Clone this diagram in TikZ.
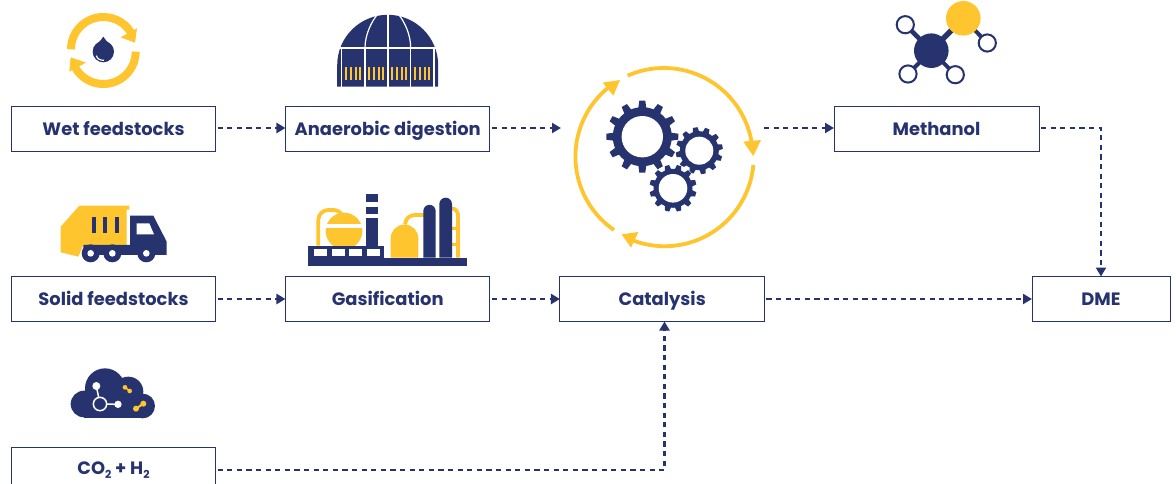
\documentclass[tikz,border=0pt]{standalone}
\usepackage{fontspec}
\setmainfont{Poppins}
\usetikzlibrary{arrows.meta}
\definecolor{navy}{HTML}{27336F}
\definecolor{sun}{HTML}{FFC52E}
\tikzset{
  box/.style={draw=navy,line width=1pt,fill=white,minimum height=45pt,inner sep=0pt,outer sep=0pt,text=navy,text height=13.5pt,text depth=0.5pt,font=\fontsize{17.9}{20}\selectfont\bfseries},
  flow/.style={draw=navy,line width=2.4pt,dash pattern=on 5.2pt off 4.4pt,-{Triangle[length=9pt,width=10pt,fill=navy]},shorten <=2pt},
  ring/.style={draw=sun,line width=3.8pt},
  thickring/.style={draw=sun,line width=8pt},
  tiny/.style={draw=navy,line width=2pt,fill=white}
}
% centre x, centre y, tooth radius, body radius, hole radius, tooth width, offset
\newcommand{\gearicon}[7]{%
  \foreach \ang in {0,30,...,330}{%
    \fill[navy,rotate around={\ang+#7:(#1,#2)}] ({#1-#6/2},{#2-#3}) -- ({#1+#6/2},{#2-#3}) -- ({#1+#6/2+1},{#2-#4+1}) -- ({#1-#6/2-1},{#2-#4+1}) -- cycle;}
  \fill[navy] (#1,#2) circle (#4);
  \fill[white] (#1,#2) circle (#5);
}
\begin{document}
\begin{tikzpicture}[x=1pt,y=-1pt]
\useasboundingbox (0,0) rectangle (1176,484);

% boxes
\node[box,minimum width=204pt] (wet) at (113.5,129) {Wet feedstocks};
\node[box,minimum width=204.5pt] (ana) at (387.7,129) {Anaerobic digestion};
\node[box,minimum width=205pt] (met) at (936.5,129) {Methanol};
\node[box,minimum width=204pt] (sol) at (113.5,299) {Solid feedstocks};
\node[box,minimum width=204.5pt] (gas) at (387.7,299) {Gasification};
\node[box,minimum width=204.5pt] (cat) at (662.2,299) {Catalysis};
\node[box,minimum width=138pt] (dme) at (1101,299) {DME};
\node[box,minimum width=204pt,text height=10pt] (co) at (113.5,470) {CO\raisebox{-3.5pt}{\fontsize{11}{11}\selectfont 2} + H\raisebox{-3.5pt}{\fontsize{11}{11}\selectfont 2}};

% connectors
\coordinate (gearin) at (561,128);
\coordinate (gearout) at (762,128);
\coordinate (bendm) at (1101,128);
\coordinate (bendc) at (664.5,470);
\draw[flow] (wet.east |- gearin) -- (ana.west |- gearin);
\draw[flow] (ana.east |- gearin) -- (gearin);
\draw[flow] (gearout) -- (gearout -| met.west);
\draw[flow] (met.east |- bendm) -- (bendm) -- (dme.north);
\draw[flow] (sol.east) -- (gas.west);
\draw[flow] (gas.east) -- (cat.west);
\draw[flow] (cat.east) -- (dme.west);
\draw[flow] (co.east) -- (bendc) -- (cat.south -| bendc);

% recycle icon
\begin{scope}[shift={(40,0)},scale=1/3]
  \draw[thickring] (93,148) arc[start angle=180,end angle=335,radius=97];
  \fill[sun] (291,85) -- (285,128) -- (242,112) -- cycle;
  \draw[thickring] (287,155) arc[start angle=0,end angle=150,radius=97];
  \fill[sun] (88,215) -- (92,172) -- (138,188) -- cycle;
  \fill[navy] (190,155) circle (32);
  \fill[navy] (190,110) .. controls (182,124) and (165,136) .. (160,145) -- (220,145) .. controls (215,136) and (198,124) .. (190,110) -- cycle;
  \draw[white,line width=1.2pt] (169,167) .. controls (172,177) and (180,181) .. (192,181);
\end{scope}

% dome icon
\begin{scope}
  \fill[navy] (337.2,86.7) -- (337.2,65.3) arc[start angle=180,end angle=360,radius=50.5] -- (438.2,86.7) -- cycle;
  \foreach \vx in {341.7,365,388,410.7,434}{\draw[white,line width=1.2pt] (\vx,48) -- (\vx,87);}
  \draw[white,line width=1.2pt] (339,48) -- (436,48);
  \draw[white,line width=1.2pt] (388,10) -- (388,48);
  \draw[white,line width=1.2pt] (365,48) .. controls (365,35) and (371,22) .. (378.5,13);
  \draw[white,line width=1.2pt] (410.7,48) .. controls (410.7,35) and (405,22) .. (397.5,13);
  \foreach \gx in {0,23,46,69}{\foreach \bx in {346,350.7,355.7,360}{\fill[sun] ({\bx+\gx-1.2},66.7) rectangle ({\bx+\gx+1.2},80);}}
\end{scope}

% molecule icon
\coordinate (mc) at (931.3,50.7);
\coordinate (my) at (963.3,18.3);
\coordinate (m1) at (905.3,24.7);
\coordinate (m2) at (987.3,43);
\coordinate (m3) at (908,74);
\coordinate (m4) at (955.3,74.7);
\draw[navy,line width=5.5pt] (mc) -- (my);
\draw[navy,line width=4.5pt] (mc) -- (m1);
\draw[navy,line width=4pt] (mc) -- (m3);
\draw[navy,line width=4pt] (mc) -- (m4);
\draw[navy,line width=4pt] (my) -- (m2);
\fill[navy] (mc) circle (17.3);
\fill[sun] (my) circle (17.3);
\foreach \mm in {m1,m2,m3,m4}{\draw[tiny] (\mm) circle (8.6);}

% catalysis ring and gears
\begin{scope}[shift={(560,60)},scale=1/3]
  \draw[ring] (203,47) arc[start angle=-114,end angle=-6,radius=267];
  \fill[sun] (580,288) -- (550,245) -- (603,240) -- cycle;
  \draw[ring] (580,315) arc[start angle=5,end angle=112,radius=267];
  \fill[sun] (185,523) -- (235,516) -- (213,563) -- cycle;
  \draw[ring] (162,510) arc[start angle=124.5,end angle=234,radius=267];
  \fill[sun] (180,60) -- (128,68) -- (160,107) -- cycle;
\end{scope}
\gearicon{642.3}{136.7}{36}{29.5}{20.7}{6}{0}
\fill[white] (699.3,150.7) circle (24);
\gearicon{699.3}{150.7}{23.5}{19.5}{14}{4.5}{10}
\fill[white] (673,188.3) circle (24);
\gearicon{673}{188.3}{23.5}{19.5}{14.3}{4.5}{15}

% truck icon
\begin{scope}[shift={(50,195)},scale=1/3]
  \fill[sun] (32,95) -- (88,32) -- (238,32) -- (238,44) -- (230,44) -- (230,150) -- (100,150) -- (85,185) -- (32,172) -- cycle;
  \foreach \bx in {127,158,195}{\fill[navy] (\bx,67) rectangle ({\bx+12},115);}
  \fill[navy] (240,62) -- (310,62) -- (350,140) -- (350,180) -- (100,180) -- (100,150) -- (240,150) -- cycle;
  \fill[white] (260,85) -- (298,85) -- (312,118) -- (260,118) -- cycle;
  \foreach \wx in {122,187,289}{\fill[navy] (\wx,175) circle (27); \fill[white] (\wx,175) circle (10);}
\end{scope}

% plant icon
\begin{scope}[shift={(300,185)},scale=1/3]
  \draw[sun,line width=3.8pt] (55,182) -- (55,105) arc[start angle=180,end angle=270,radius=30] -- (100,75) arc[start angle=-90,end angle=-30,radius=30];
  \begin{scope}
    \clip (60,70) rectangle (200,115);
    \fill[sun] (132,138) circle (55);
  \end{scope}
  \begin{scope}
    \clip (60,132) rectangle (200,182);
    \fill[sun] (132,138) circle (55);
  \end{scope}
  \fill[navy] (25,218) rectangle (500,243);
  \fill[navy] (25,182) rectangle (253,218);
  \foreach \wx in {42,95,147,200}{\fill[white] (\wx,192) rectangle ({\wx+39},212);}
  \fill[navy] (197,27) rectangle (235,50);
  \fill[navy] (197,67) rectangle (235,87);
  \fill[navy] (197,100) rectangle (235,182);
  \draw[sun,line width=3.8pt] (315,118) .. controls (318,98) and (328,90) .. (350,90) -- (372,90);
  \fill[sun] (272,218) -- (272,160) arc[start angle=180,end angle=360,radius=41.5] -- (355,218) -- cycle;
  \draw[sun,line width=3.8pt] (456,70) .. controls (468,72) and (474,80) .. (474,92) -- (474,218);
  \draw[sun,line width=3pt] (456,131) -- (474,131);
  \draw[sun,line width=3pt] (456,178) -- (474,178);
  \fill[navy] (370,218) -- (370,78) arc[start angle=180,end angle=360,radius=18.5] -- (407,218) -- cycle;
  \fill[navy] (418,218) -- (418,57) arc[start angle=180,end angle=360,radius=19] -- (456,218) -- cycle;
\end{scope}

% cloud icon
\begin{scope}[shift={(60,360)},scale=1/3]
  \fill[navy] (72,132) circle (40);
  \fill[navy] (135,85) circle (60);
  \fill[navy] (205,95) circle (45);
  \fill[navy] (248,138) circle (37);
  \fill[navy] (72,125) rectangle (248,174);
  \draw[white,line width=1.5pt] (109,78) -- (120,132) -- (174,133);
  \fill[navy] (120,132) circle (20);
  \draw[white,line width=1.5pt] (120,132) circle (20);
  \fill[white] (109,78) circle (12);
  \fill[white] (174,133) circle (11);
  \draw[sun,line width=1.5pt] (195,82) -- (209,93);
  \fill[sun] (195,82) circle (7);
  \fill[sun] (209,93) circle (7);
  \draw[sun,line width=2pt] (228,146) -- (250,131);
  \fill[sun] (228,146) circle (9);
  \fill[sun] (250,131) circle (9);
\end{scope}
\end{tikzpicture}
\end{document}
